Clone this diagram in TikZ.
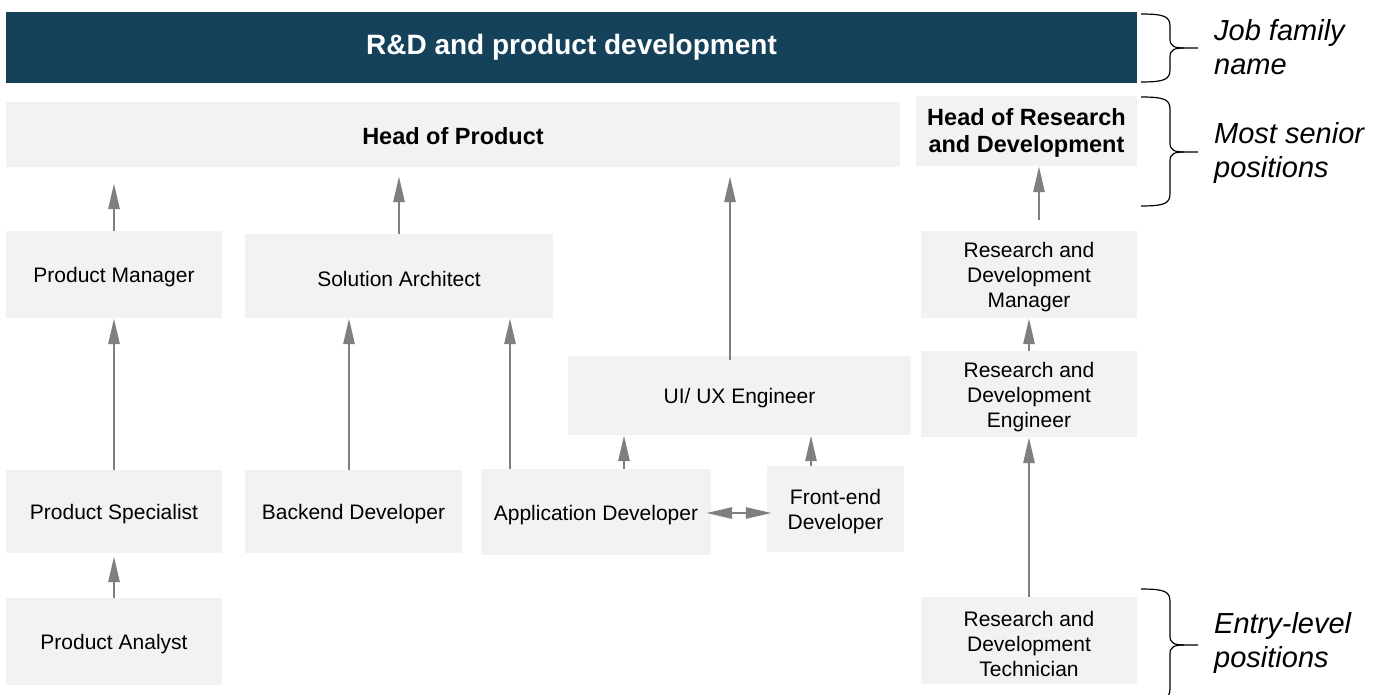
\documentclass[tikz,border=0pt]{standalone}
\usepackage{fontspec}
\setmainfont{Liberation Sans}
\usetikzlibrary{arrows.meta}
\definecolor{bannerblue}{HTML}{15425A}
\definecolor{boxgray}{HTML}{F2F2F2}
\definecolor{arrgray}{HTML}{7F7F7F}
\newcommand\mybrace[3]{% top, middle, bottom
  \draw[bracestyle] (1141,#1) .. controls (1166,#1) and (1170,{#1+3}) .. (1170,{#1+13})
    -- (1170,{#2-9}) .. controls (1170,{#2-2}) and (1174,#2) .. (1184,#2) -- (1198,#2);
  \draw[bracestyle] (1141,#3) .. controls (1166,#3) and (1170,{#3-3}) .. (1170,{#3-13})
    -- (1170,{#2+9}) .. controls (1170,{#2+2}) and (1174,#2) .. (1184,#2);
}
\begin{document}
\begin{tikzpicture}[x=1pt,y=-1pt,
  box/.style={fill=boxgray, inner sep=0pt},
  lbl/.style={yshift=-3pt, inner sep=0pt, align=center, text=black,
    font=\fontsize{21}{25}\selectfont},
  blbl/.style={yshift=-2pt, inner sep=0pt, align=center, text=black,
    font=\fontsize{23.5}{27}\selectfont\bfseries},
  arr/.style={draw=arrgray, line width=2.8pt, -{Triangle[length=26pt,width=11pt]}},
  darr/.style={draw=arrgray, line width=2.8pt, {Triangle[length=26pt,width=11pt]}-{Triangle[length=26pt,width=11pt]}},
  side/.style={anchor=west, align=left, inner sep=0pt, font=\fontsize{29}{34}\selectfont\itshape},
  bracestyle/.style={draw=black, line width=1.2pt}
]
\clip (0,0) rectangle (1385,695);
\fill[white] (0,0) rectangle (1385,695);

% banner
\node[fill=bannerblue, text=white, inner sep=0pt, minimum width=1131pt, minimum height=71pt,
  font=\fontsize{28}{32}\selectfont\bfseries] (banner) at (571.5,47.5) {R\&D and product development};

% senior positions
\node[box, minimum width=894pt, minimum height=65pt, label={[blbl]center:Head of Product}] (HoP) at (453,134.5) {};
\node[box, minimum width=221pt, minimum height=70pt, label={[blbl]center:{Head of Research\\and Development}}] (HoRD) at (1026.5,131) {};

% other positions
\node[box, minimum width=216pt, minimum height=87pt, label={[lbl]center:Product Manager}] (PM) at (114,274.5) {};
\node[box, minimum width=308pt, minimum height=84pt, label={[lbl]center:Solution Architect}] (SA) at (399,276) {};
\node[box, minimum width=343pt, minimum height=79pt, label={[lbl]center:UI/ UX Engineer}] (UI) at (739.5,395.5) {};
\node[box, minimum width=216pt, minimum height=83pt, label={[lbl]center:Product Specialist}] (PS) at (114,511.5) {};
\node[box, minimum width=217pt, minimum height=83pt, label={[lbl]center:Backend Developer}] (BD) at (353.5,511.5) {};
\node[box, minimum width=230pt, minimum height=86pt, label={[lbl]center:Application Developer}] (AD) at (596,512) {};
\node[box, minimum width=137pt, minimum height=86pt, label={[lbl]center:{Front-end\\Developer}}] (FE) at (835.5,509) {};
\node[box, minimum width=216pt, minimum height=87pt, label={[lbl]center:Product Analyst}] (PA) at (114,641.5) {};
\node[box, minimum width=216pt, minimum height=87pt, label={[lbl]center:{Research and\\Development\\Manager}}] (RDM) at (1029,274.5) {};
\node[box, minimum width=216pt, minimum height=86pt, label={[lbl]center:{Research and\\Development\\Engineer}}] (RDE) at (1029,394) {};
\node[box, minimum width=216pt, minimum height=87pt, label={[lbl]center:{Research and\\Development\\Technician}}] (RDT) at (1029,640.5) {};

% arrows
\draw[arr, shorten >=3pt] (PA.north) -- (PS.south);
\draw[arr] (PS.north) -- (PM.south);
\draw[arr, shorten >=16pt] (PM.north) -- (PM.north |- HoP.south);
\draw[arr] ([xshift=-4.5pt]BD.north) -- ([xshift=-4.5pt]BD.north |- SA.south);
\draw[arr] ([xshift=-86pt]AD.north) -- ([xshift=-86pt]AD.north |- SA.south);
\draw[arr, shorten >=9pt] (SA.north) -- (SA.north |- HoP.south);
\draw[arr, shorten <=-4pt, shorten >=9pt] ([xshift=-9.5pt]UI.north) -- ([xshift=-9.5pt]UI.north |- HoP.south);
\draw[arr] ([xshift=28pt]AD.north) -- ([xshift=28pt]AD.north |- UI.south);
\draw[arr] ([xshift=-24.5pt]FE.north) -- ([xshift=-24.5pt]FE.north |- UI.south);
\draw[darr, shorten <=-5pt, shorten >=-5pt] ([yshift=-1pt]AD.east) -- ([yshift=-1pt]AD.east -| FE.west);
\draw[arr] (RDT.north) -- (RDE.south);
\draw[arr] (RDE.north) -- (RDM.south);
\draw[arr, shorten <=11pt] ([xshift=10pt]RDM.north) -- ([xshift=10pt]RDM.north |- HoRD.south);

% braces
\mybrace{14}{48}{82}
\mybrace{97}{152}{206}
\mybrace{589}{645}{701}

% side labels
\node[side] (lab1) at (1214,47) {Job family\\name};
\node[side] (lab2) at (1214,153) {Most senior\\positions};
\node[side] (lab3) at (1214,643) {Entry-level\\positions};
\end{tikzpicture}
\end{document}
